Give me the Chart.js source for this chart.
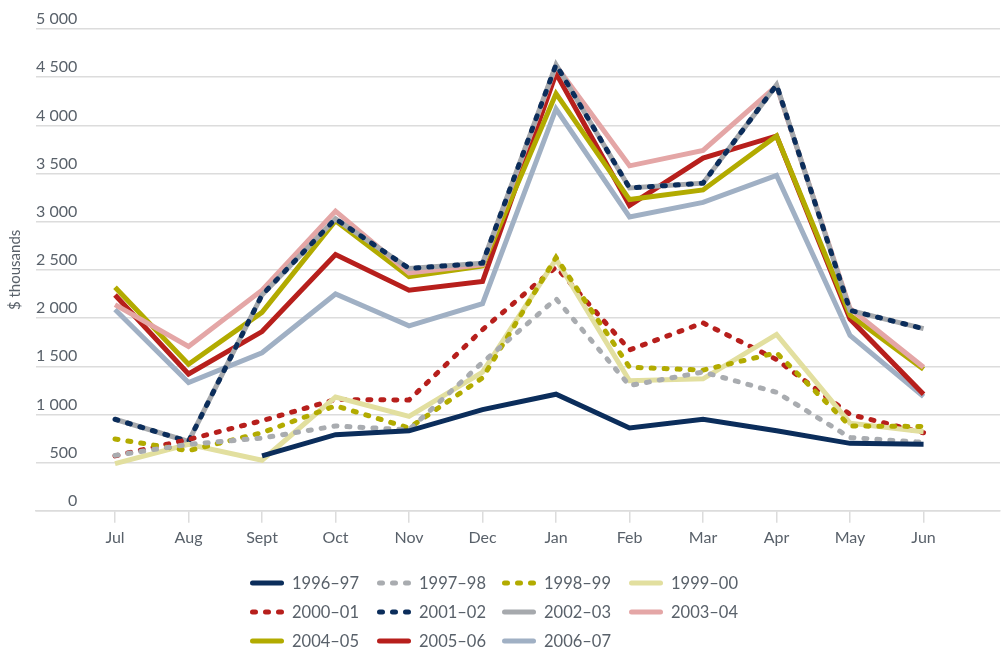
<!DOCTYPE html>
<html>
<head>
<meta charset="utf-8">
<script src="https://cdn.jsdelivr.net/npm/chart.js@4.4.1/dist/chart.umd.min.js"></script>
<style>
  html, body { margin: 0; padding: 0; background: #ffffff; }
  #wrap { width: 1002px; height: 651px; position: relative; }
</style>
</head>
<body>
<div id="wrap"><canvas id="c" width="1002" height="651"></canvas></div>
<script>
// ---- data ----
const months = ['Jul','Aug','Sept','Oct','Nov','Dec','Jan','Feb','Mar','Apr','May','Jun'];
const yTicks = [0, 500, 1000, 1500, 2000, 2500, 3000, 3500, 4000, 4500, 5000];
const seriesNames = ['1996–97','1997–98','1998–99','1999–00','2000–01','2001–02','2002–03','2003–04','2004–05','2005–06','2006–07'];

const y1996_97 = [null, null, 570, 790, 830, 1050, 1210, 860, 950, 830, 700, 690];
const y1997_98 = [575, 690, 755, 880, 840, 1540, 2200, 1300, 1440, 1230, 760, 710];
const y1998_99 = [745, 624, 810, 1090, 860, 1380, 2630, 1490, 1460, 1640, 880, 875];
const y1999_00 = [490, 690, 525, 1180, 980, 1440, 2610, 1350, 1370, 1830, 910, 820];
const y2000_01 = [570, 740, 935, 1155, 1150, 1880, 2530, 1670, 1950, 1570, 1000, 810];
const y2001_02 = [950, 720, 2240, 3030, 2515, 2570, 4630, 3350, 3400, 4420, 2080, 1890];
const y2002_03 = [950, 720, 2240, 3030, 2515, 2570, 4630, 3350, 3400, 4420, 2080, 1890];
const y2003_04 = [2140, 1705, 2290, 3110, 2470, 2555, 4620, 3580, 3740, 4410, 2100, 1490];
const y2004_05 = [2320, 1520, 2060, 3010, 2430, 2540, 4330, 3230, 3330, 3890, 2030, 1470];
const y2005_06 = [2240, 1420, 1860, 2660, 2290, 2380, 4540, 3170, 3660, 3890, 1990, 1210];
const y2006_07 = [2090, 1330, 1640, 2250, 1920, 2150, 4170, 3050, 3200, 3480, 1820, 1185];

const seriesValues = [y1996_97, y1997_98, y1998_99, y1999_00, y2000_01, y2001_02, y2002_03, y2003_04, y2004_05, y2005_06, y2006_07];

// ---- styles ----
const colors = ['#0b2d5b','#a9acb0','#b2ab00','#e2df9f','#b71f1c','#0b2d5b','#a6a9ad','#e4a6a6','#b2ab00','#b71f1c','#a0b0c4'];
const dashed = [false, true, true, false, true, true, false, false, false, false, false];
const DASH = [3, 10];
const textColor = '#59616a';
const gridColor = '#dcdcdc';

const datasets = seriesNames.map((name, i) => ({
  label: name,
  data: seriesValues[i],
  borderColor: colors[i],
  backgroundColor: colors[i],
  borderWidth: 5,
  borderDash: dashed[i] ? DASH : [],
  borderCapStyle: dashed[i] ? 'round' : 'butt',
  borderJoinStyle: 'miter',
  pointRadius: 0,
  pointHoverRadius: 0,
  tension: 0,
  fill: false,
  spanGaps: false
}));

function fmt(v) {
  if (v >= 1000) {
    const t = Math.floor(v / 1000), r = v % 1000;
    return t + ' ' + String(r).padStart(3, '0');
  }
  return String(v);
}

const gridLegend = {
  id: 'gridLegend',
  afterDraw(chart) {
    const ctx = chart.ctx;
    const colX = [250, 377, 502, 629];
    const rowY = [583, 612, 641];
    ctx.save();
    chart.data.datasets.forEach((ds, i) => {
      const x0 = colX[i % 4], y = rowY[Math.floor(i / 4)];
      ctx.beginPath();
      ctx.lineWidth = 5;
      ctx.strokeStyle = ds.borderColor;
      ctx.lineCap = 'round';
      if (ds.borderDash && ds.borderDash.length) {
        ctx.setLineDash(ds.borderDash);
        ctx.moveTo(x0 + 2.5, y);
        ctx.lineTo(x0 + 32, y);
      } else {
        ctx.setLineDash([]);
        ctx.moveTo(x0 + 2.5, y);
        ctx.lineTo(x0 + 31.5, y);
      }
      ctx.stroke();
      ctx.setLineDash([]);
      ctx.fillStyle = textColor;
      ctx.font = '16.5px Lato';
      ctx.textBaseline = 'middle';
      ctx.textAlign = 'left';
      ctx.fillText(ds.label, x0 + 42, y + 1);
    });
    ctx.restore();
  }
};

new Chart(document.getElementById('c'), {
  type: 'line',
  data: {
    labels: months.map((m, i) => i),
    datasets: datasets
  },
  options: {
    responsive: false,
    animation: false,
    layout: { padding: { left: 6, right: 2, top: 29, bottom: 99 } },
    plugins: {
      legend: { display: false },
      tooltip: { enabled: false },
      title: { display: false }
    },
    scales: {
      x: {
        type: 'linear',
        min: -1.075,
        max: 12.04,
        afterBuildTicks: (axis) => { axis.ticks = months.map((m, i) => ({ value: i })); },
        grid: { display: true, drawOnChartArea: false, drawTicks: true, tickLength: 12, color: gridColor, lineWidth: 1.5 },
        border: { display: true, color: gridColor, width: 1.5 },
        ticks: {
          color: textColor,
          font: { family: 'Lato', size: 16 },
          padding: 5,
          maxRotation: 0,
          autoSkip: false,
          callback: (v) => months[v] !== undefined ? months[v] : ''
        }
      },
      y: {
        type: 'linear',
        min: 0,
        max: 5000,
        afterBuildTicks: (axis) => { axis.ticks = yTicks.map(v => ({ value: v })); },
        grid: { color: gridColor, lineWidth: 1.5, drawTicks: false },
        border: { display: false },
        ticks: {
          mirror: true,
          crossAlign: 'far',
          padding: 0,
          labelOffset: -10,
          color: textColor,
          font: { family: 'Lato', size: 16 },
          callback: (v) => fmt(v)
        },
        title: {
          display: true,
          text: '$ thousands',
          color: textColor,
          font: { family: 'Lato', size: 15 },
          padding: { top: 0, bottom: 12 }
        }
      }
    }
  },
  plugins: [gridLegend]
});
</script>
</body>
</html>
